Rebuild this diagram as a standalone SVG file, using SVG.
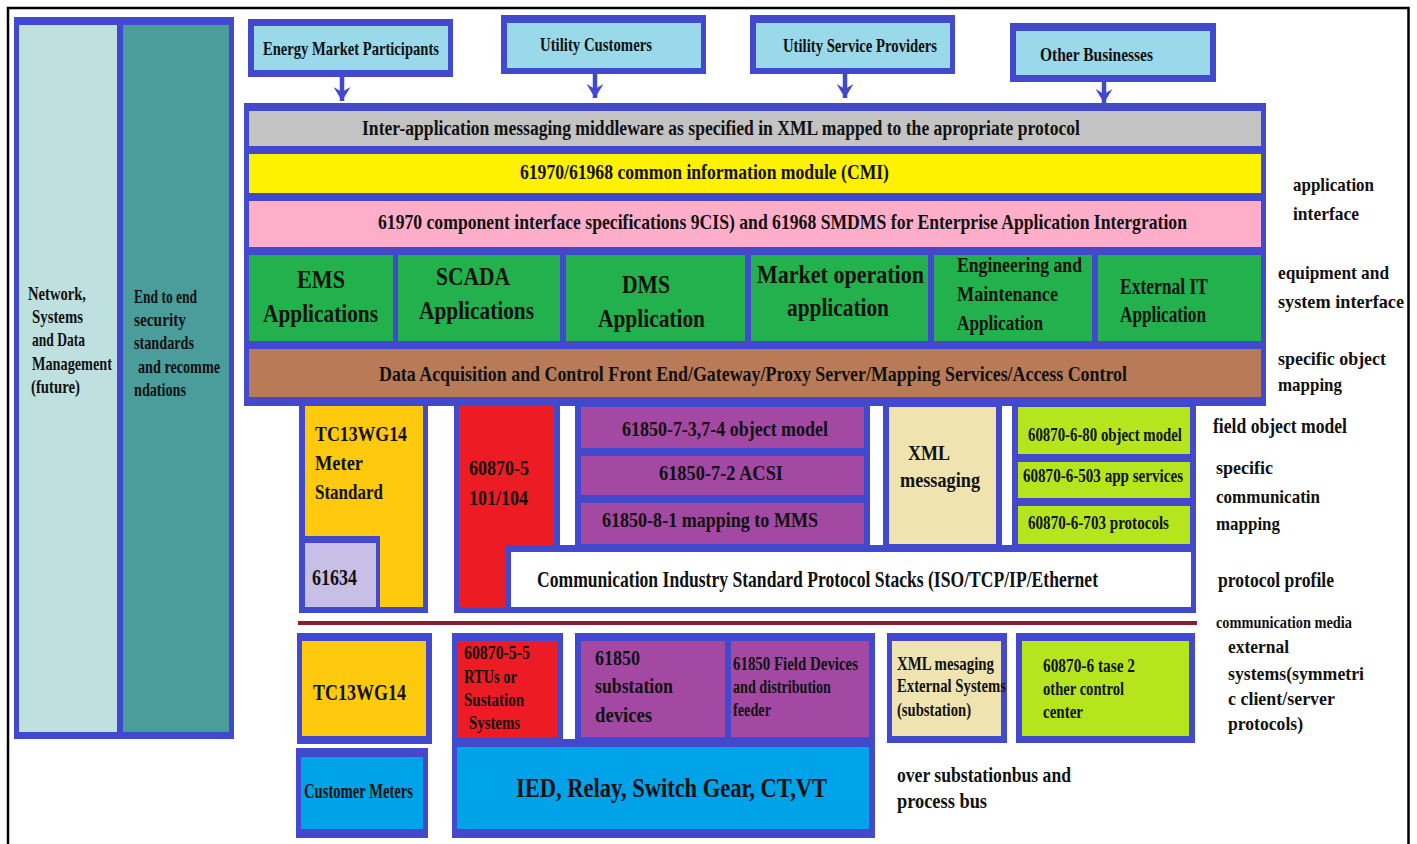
<svg xmlns="http://www.w3.org/2000/svg" width="1417" height="844" viewBox="0 0 1417 844">
<defs>
<style>
.fr{fill:#4349CC}
.lb{fill:#99D9EA}
.gy{fill:#C3C3C3}
.yl{fill:#FFF200}
.pk{fill:#FFAEC9}
.gn{fill:#22B14C}
.br{fill:#B97A57}
.or{fill:#FFC90E}
.lv{fill:#C8BFE7}
.rd{fill:#ED1C24}
.pu{fill:#A349A4}
.bg{fill:#EFE4B0}
.lm{fill:#B5E61D}
.cy{fill:#00A2E8}
.wh{fill:#FFFFFF}
.lc{fill:#BEE0DF}
.tl{fill:#4A9D9B}
text{font-family:"Liberation Serif","Times New Roman",serif;font-weight:bold;fill:#111}
.s15{font-size:16px}.s17{font-size:17px}.s18{font-size:18px}.s19{font-size:19px}.s20{font-size:20px}
.s21{font-size:21px}.s22{font-size:22px}.s23{font-size:23px}.s24{font-size:24px}.s25{font-size:25px}.s26{font-size:26px}.s28{font-size:28px}
.conn{stroke:#4349CC;stroke-width:4.5;fill:none}
</style>
<marker id="ah" markerUnits="userSpaceOnUse" markerWidth="14" markerHeight="17" viewBox="0 0 14 17" refX="14" refY="8.5" orient="auto">
<path d="M0,0 L14,8.5 L0,17 L5,8.5 Z" fill="#4349CC"/>
</marker>
</defs>
<rect width="1417" height="844" fill="#FFFFFF"/>
<!-- page frame -->
<path d="M8,844 V8 H1408.5 V844" fill="none" stroke="#000" stroke-width="2.5"/>

<!-- side columns -->
<g id="side-columns">
<rect class="fr" x="14" y="17" width="220" height="722"/>
<rect class="lc" x="19" y="25" width="98" height="707"/>
<rect class="tl" x="123" y="25" width="106" height="707"/>
</g>
<g id="network-management">
<text class="s19" x="28" y="300" textLength="58" lengthAdjust="spacingAndGlyphs">Network,</text>
<text class="s19" x="32" y="323" textLength="51" lengthAdjust="spacingAndGlyphs">Systems</text>
<text class="s19" x="32" y="346" textLength="53" lengthAdjust="spacingAndGlyphs">and Data</text>
<text class="s19" x="32" y="370" textLength="80" lengthAdjust="spacingAndGlyphs">Management</text>
<text class="s19" x="31" y="393" textLength="49" lengthAdjust="spacingAndGlyphs">(future)</text>
</g>
<g id="security">
<text class="s19" x="134" y="303" textLength="63" lengthAdjust="spacingAndGlyphs">End to end</text>
<text class="s19" x="134" y="326" textLength="52" lengthAdjust="spacingAndGlyphs">security</text>
<text class="s19" x="134" y="349" textLength="60" lengthAdjust="spacingAndGlyphs">standards</text>
<text class="s19" x="138" y="373" textLength="82" lengthAdjust="spacingAndGlyphs">and recomme</text>
<text class="s19" x="134" y="396" textLength="52" lengthAdjust="spacingAndGlyphs">ndations</text>
</g>

<!-- stakeholder boxes -->
<g id="energy-market">
<rect class="fr" x="248" y="19" width="205" height="58"/>
<rect class="lb" x="254" y="26" width="194" height="44"/>
<text class="s19" x="263" y="55" textLength="176" lengthAdjust="spacingAndGlyphs">Energy Market Participants</text>
</g>
<g id="utility-customers">
<rect class="fr" x="501" y="15" width="205" height="59"/>
<rect class="lb" x="507" y="23" width="194" height="45"/>
<text class="s19" x="540" y="51" textLength="112" lengthAdjust="spacingAndGlyphs">Utility Customers</text>
</g>
<g id="utility-service-providers">
<rect class="fr" x="750" y="15" width="205" height="59"/>
<rect class="lb" x="756" y="23" width="194" height="45"/>
<text class="s19" x="783" y="52" textLength="154" lengthAdjust="spacingAndGlyphs">Utility Service Providers</text>
</g>
<g id="other-businesses">
<rect class="fr" x="1010" y="23" width="206" height="59"/>
<rect class="lb" x="1016" y="31" width="194" height="44"/>
<text class="s19" x="1040" y="61" textLength="113" lengthAdjust="spacingAndGlyphs">Other Businesses</text>
</g>

<!-- enterprise stack -->
<g id="enterprise-stack">
<rect class="fr" x="244" y="103" width="1022" height="303"/>
</g>
<g id="middleware">
<rect class="gy" x="249" y="111" width="1012" height="35"/>
<text class="s20" x="362" y="135" textLength="718" lengthAdjust="spacingAndGlyphs">Inter-application messaging middleware as specified in XML mapped to the apropriate protocol</text>
</g>
<g id="cim">
<rect class="yl" x="249" y="154" width="1012" height="39"/>
<text class="s21" x="520" y="179" textLength="369" lengthAdjust="spacingAndGlyphs">61970/61968 common information module (CMI)</text>
</g>
<g id="cis">
<rect class="pk" x="249" y="201" width="1012" height="46"/>
<text class="s21" x="378" y="229" textLength="809" lengthAdjust="spacingAndGlyphs">61970 component interface specifications 9CIS) and 61968 SMDMS for Enterprise Application Intergration</text>
</g>
<g id="ems">
<rect class="gn" x="249" y="255" width="144" height="86"/>
<text class="s26" x="297" y="288" textLength="48" lengthAdjust="spacingAndGlyphs">EMS</text>
<text class="s26" x="263" y="322" textLength="115" lengthAdjust="spacingAndGlyphs">Applications</text>
</g>
<g id="scada">
<rect class="gn" x="398" y="255" width="162" height="86"/>
<text class="s25" x="436" y="285" textLength="74" lengthAdjust="spacingAndGlyphs">SCADA</text>
<text class="s25" x="419" y="319" textLength="115" lengthAdjust="spacingAndGlyphs">Applications</text>
</g>
<g id="dms">
<rect class="gn" x="566" y="255" width="179" height="86"/>
<text class="s25" x="622" y="293" textLength="48" lengthAdjust="spacingAndGlyphs">DMS</text>
<text class="s25" x="598" y="327" textLength="107" lengthAdjust="spacingAndGlyphs">Application</text>
</g>
<g id="market-operation">
<rect class="gn" x="751" y="255" width="177" height="86"/>
<text class="s25" x="757" y="283" textLength="167" lengthAdjust="spacingAndGlyphs">Market operation</text>
<text class="s25" x="787" y="316" textLength="102" lengthAdjust="spacingAndGlyphs">application</text>
</g>
<g id="engineering">
<rect class="gn" x="934" y="255" width="158" height="86"/>
<text class="s20" x="957" y="272" textLength="125" lengthAdjust="spacingAndGlyphs">Engineering and</text>
<text class="s20" x="957" y="301" textLength="101" lengthAdjust="spacingAndGlyphs">Maintenance</text>
<text class="s20" x="957" y="330" textLength="86" lengthAdjust="spacingAndGlyphs">Application</text>
</g>
<g id="external-it">
<rect class="gn" x="1098" y="255" width="163" height="86"/>
<text class="s23" x="1120" y="294" textLength="88" lengthAdjust="spacingAndGlyphs">External IT</text>
<text class="s23" x="1120" y="322" textLength="86" lengthAdjust="spacingAndGlyphs">Application</text>
</g>
<g id="data-acquisition">
<rect class="br" x="249" y="349" width="1012" height="48"/>
<text class="s22" x="379" y="381" textLength="748" lengthAdjust="spacingAndGlyphs">Data Acquisition and Control Front End/Gateway/Proxy Server/Mapping Services/Access Control</text>
</g>

<!-- field object / communication layers -->
<g id="meter-standard">
<rect class="fr" x="299" y="400" width="129" height="213"/>
<rect class="or" x="305" y="406" width="118" height="201"/>
<text class="s21" x="315" y="441" textLength="92" lengthAdjust="spacingAndGlyphs">TC13WG14</text>
<text class="s22" x="315" y="470" textLength="48" lengthAdjust="spacingAndGlyphs">Meter</text>
<text class="s22" x="315" y="499" textLength="68" lengthAdjust="spacingAndGlyphs">Standard</text>
</g>
<g id="iec-61634">
<rect class="fr" x="299" y="536" width="81" height="77"/>
<rect class="lv" x="305" y="543" width="71" height="64"/>
<text class="s23" x="312" y="585" textLength="45" lengthAdjust="spacingAndGlyphs">61634</text>
</g>
<g id="iec-60870-5">
<rect class="fr" x="454" y="400" width="106" height="213"/>
<rect class="rd" x="459" y="406" width="95" height="201"/>
<text class="s21" x="469" y="475" textLength="60" lengthAdjust="spacingAndGlyphs">60870-5</text>
<text class="s21" x="469" y="505" textLength="59" lengthAdjust="spacingAndGlyphs">101/104</text>
</g>
<g id="iec-61850">
<rect class="fr" x="575" y="400" width="295" height="152"/>
<rect class="pu" x="581" y="407" width="283" height="41"/>
<rect class="pu" x="581" y="456" width="283" height="39"/>
<rect class="pu" x="581" y="503" width="283" height="41"/>
<text class="s21" x="622" y="436" textLength="206" lengthAdjust="spacingAndGlyphs">61850-7-3,7-4 object model</text>
<text class="s21" x="659" y="480" textLength="124" lengthAdjust="spacingAndGlyphs">61850-7-2 ACSI</text>
<text class="s21" x="602" y="527" textLength="216" lengthAdjust="spacingAndGlyphs">61850-8-1 mapping to MMS</text>
</g>
<g id="xml-messaging">
<rect class="fr" x="883" y="400" width="119" height="152"/>
<rect class="bg" x="889" y="407" width="107" height="137"/>
<text class="s21" x="908" y="460" textLength="42" lengthAdjust="spacingAndGlyphs">XML</text>
<text class="s21" x="900" y="487" textLength="80" lengthAdjust="spacingAndGlyphs">messaging</text>
</g>
<g id="iec-60870-6">
<rect class="fr" x="1012" y="400" width="184" height="152"/>
<rect class="lm" x="1018" y="407" width="172" height="47"/>
<rect class="lm" x="1018" y="462" width="172" height="36"/>
<rect class="lm" x="1018" y="506" width="172" height="38"/>
<text class="s19" x="1028" y="441" textLength="154" lengthAdjust="spacingAndGlyphs">60870-6-80 object model</text>
<text class="s19" x="1023" y="482" textLength="160" lengthAdjust="spacingAndGlyphs">60870-6-503 app services</text>
<text class="s19" x="1028" y="529" textLength="141" lengthAdjust="spacingAndGlyphs">60870-6-703 protocols</text>
</g>
<g id="protocol-stacks">
<rect class="fr" x="506" y="545" width="690" height="68"/>
<rect class="wh" x="511" y="552" width="680" height="55"/>
<text class="s23" x="537" y="587" textLength="561" lengthAdjust="spacingAndGlyphs">Communication Industry Standard Protocol Stacks (ISO/TCP/IP/Ethernet</text>
</g>

<!-- communication media divider -->
<g id="media-line">
<rect x="298" y="621" width="899" height="4" fill="#8E1B2E"/>
</g>

<!-- field devices -->
<g id="meters-tc13wg14">
<rect class="fr" x="297" y="633" width="135" height="111"/>
<rect class="or" x="302" y="641" width="124" height="95"/>
<text class="s24" x="313" y="700" textLength="93" lengthAdjust="spacingAndGlyphs">TC13WG14</text>
</g>
<g id="customer-meters">
<rect class="fr" x="296" y="748" width="132" height="90"/>
<rect class="cy" x="301" y="757" width="122" height="72"/>
<text class="s20" x="304" y="798" textLength="109" lengthAdjust="spacingAndGlyphs">Customer Meters</text>
</g>
<g id="substation-devices">
<path class="fr" d="M452,633 H563 V739 H575 V633 H875 V838 H452 Z"/>
<rect class="rd" x="457" y="641" width="100" height="96"/>
<rect class="pu" x="581" y="641" width="144" height="96"/>
<rect class="pu" x="731" y="641" width="138" height="96"/>
<rect class="cy" x="457" y="747" width="412" height="82"/>
<text class="s18" x="464" y="659" textLength="66" lengthAdjust="spacingAndGlyphs">60870-5-5</text>
<text class="s18" x="464" y="683" textLength="53" lengthAdjust="spacingAndGlyphs">RTUs or</text>
<text class="s18" x="464" y="706" textLength="60" lengthAdjust="spacingAndGlyphs">Sustation</text>
<text class="s18" x="469" y="729" textLength="51" lengthAdjust="spacingAndGlyphs">Systems</text>
<text class="s22" x="595" y="665" textLength="45" lengthAdjust="spacingAndGlyphs">61850</text>
<text class="s22" x="595" y="693" textLength="78" lengthAdjust="spacingAndGlyphs">substation</text>
<text class="s22" x="595" y="722" textLength="57" lengthAdjust="spacingAndGlyphs">devices</text>
<text class="s19" x="733" y="670" textLength="125" lengthAdjust="spacingAndGlyphs">61850 Field Devices</text>
<text class="s19" x="733" y="693" textLength="98" lengthAdjust="spacingAndGlyphs">and distribution</text>
<text class="s19" x="733" y="716" textLength="38" lengthAdjust="spacingAndGlyphs">feeder</text>
<text class="s28" x="516" y="797" textLength="311" lengthAdjust="spacingAndGlyphs">IED, Relay, Switch Gear, CT,VT</text>
</g>
<g id="xml-external">
<rect class="fr" x="887" y="633" width="120" height="110"/>
<rect class="bg" x="892" y="641" width="109" height="95"/>
<text class="s19" x="897" y="670" textLength="97" lengthAdjust="spacingAndGlyphs">XML mesaging</text>
<text class="s19" x="897" y="692" textLength="109" lengthAdjust="spacingAndGlyphs">External Systems</text>
<text class="s19" x="897" y="716" textLength="74" lengthAdjust="spacingAndGlyphs">(substation)</text>
</g>
<g id="tase2">
<rect class="fr" x="1016" y="633" width="179" height="110"/>
<rect class="lm" x="1022" y="641" width="167" height="95"/>
<text class="s19" x="1043" y="672" textLength="92" lengthAdjust="spacingAndGlyphs">60870-6 tase 2</text>
<text class="s19" x="1043" y="695" textLength="81" lengthAdjust="spacingAndGlyphs">other control</text>
<text class="s19" x="1043" y="718" textLength="40" lengthAdjust="spacingAndGlyphs">center</text>
</g>

<!-- layer labels -->
<g id="layer-labels">
<text class="s19" x="1293" y="191" textLength="81" lengthAdjust="spacingAndGlyphs">application</text>
<text class="s19" x="1293" y="220" textLength="66" lengthAdjust="spacingAndGlyphs">interface</text>
<text class="s19" x="1278" y="279" textLength="111" lengthAdjust="spacingAndGlyphs">equipment and</text>
<text class="s19" x="1278" y="308" textLength="126" lengthAdjust="spacingAndGlyphs">system interface</text>
<text class="s19" x="1278" y="365" textLength="108" lengthAdjust="spacingAndGlyphs">specific object</text>
<text class="s19" x="1278" y="391" textLength="64" lengthAdjust="spacingAndGlyphs">mapping</text>
<text class="s20" x="1213" y="433" textLength="134" lengthAdjust="spacingAndGlyphs">field object model</text>
<text class="s19" x="1216" y="474" textLength="57" lengthAdjust="spacingAndGlyphs">specific</text>
<text class="s19" x="1216" y="503" textLength="104" lengthAdjust="spacingAndGlyphs">communicatin</text>
<text class="s19" x="1216" y="530" textLength="64" lengthAdjust="spacingAndGlyphs">mapping</text>
<text class="s20" x="1218" y="587" textLength="116" lengthAdjust="spacingAndGlyphs">protocol profile</text>
<text class="s17" x="1216" y="628" textLength="136" lengthAdjust="spacingAndGlyphs">communication media</text>
<text class="s19" x="1228" y="653" textLength="61" lengthAdjust="spacingAndGlyphs">external</text>
<text class="s19" x="1228" y="680" textLength="136" lengthAdjust="spacingAndGlyphs">systems(symmetri</text>
<text class="s19" x="1228" y="705" textLength="107" lengthAdjust="spacingAndGlyphs">c client/server</text>
<text class="s19" x="1228" y="730" textLength="75" lengthAdjust="spacingAndGlyphs">protocols)</text>
<text class="s21" x="897" y="782" textLength="174" lengthAdjust="spacingAndGlyphs">over substationbus and</text>
<text class="s21" x="897" y="808" textLength="90" lengthAdjust="spacingAndGlyphs">process bus</text>
</g>

<!-- stakeholder connectors -->
<g id="connectors">
<line class="conn" x1="342" y1="77" x2="342" y2="101" marker-end="url(#ah)"/>
<line class="conn" x1="595" y1="74" x2="595" y2="98" marker-end="url(#ah)"/>
<line class="conn" x1="845" y1="74" x2="845" y2="98" marker-end="url(#ah)"/>
<line class="conn" x1="1104" y1="82" x2="1104" y2="103" marker-end="url(#ah)"/>
</g>
</svg>
